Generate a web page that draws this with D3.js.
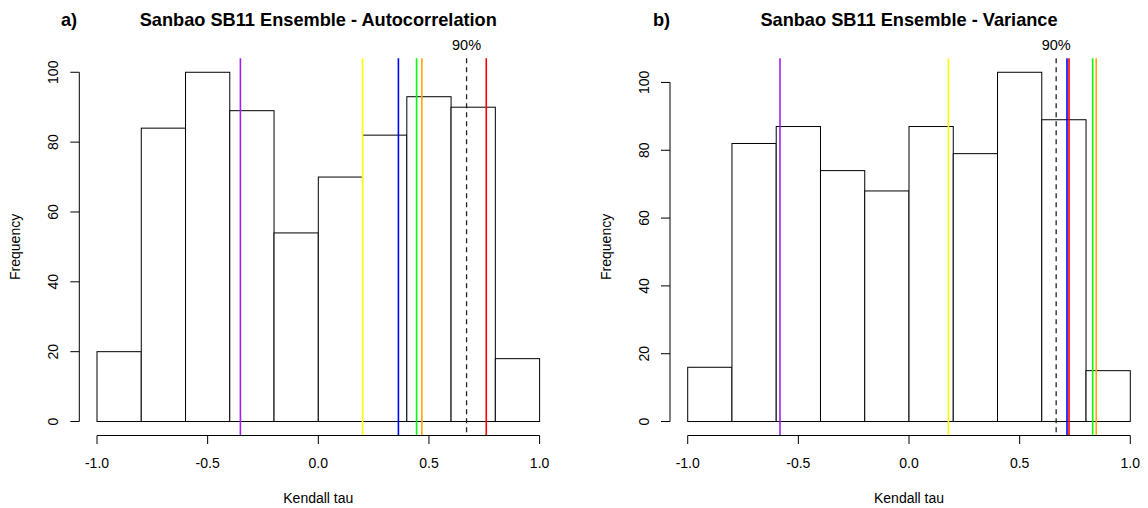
<!DOCTYPE html>
<html lang="en">
<head>
    <meta charset="UTF-8">
    <title>Sanbao SB11 Ensemble</title>
    <script src="https://d3js.org/d3.v7.min.js"></script>
    <style>
        body { margin: 0; background: #fff; }
        svg text { font-family: "Liberation Sans", Arial, sans-serif; fill: #000; }
    </style>
</head>
<body>
    <svg width="1148" height="508"></svg>
    <script>
        // histogram bins (Kendall tau) and counts
        const breaks = [-1.0, -0.8, -0.6, -0.4, -0.2, 0.0, 0.2, 0.4, 0.6, 0.8, 1.0];
        const countsAuto = [20, 84, 100, 89, 54, 70, 82, 93, 90, 18];
        const countsVar = [16, 82, 87, 74, 68, 87, 79, 103, 89, 15];

        // coloured record lines (purple, yellow, blue, green, orange, red)
        const lineColors = ["#A020F0", "#FFFF00", "#0000FF", "#00FF00", "#FFA500", "#FF0000"];
        const tauAuto = [-0.352, 0.200, 0.362, 0.444, 0.468, 0.759];
        const tauVar = [-0.583, 0.178, 0.714, 0.830, 0.846, 0.723];

        // 90% quantile
        const q90Auto = 0.67;
        const q90Var = 0.665;

        const xTicks = [-1.0, -0.5, 0.0, 0.5, 1.0];
        const yTicks = [0, 20, 40, 60, 80, 100];

        const svg = d3.select("svg");

        function drawPanel(opt) {
            const g = svg.append("g");
            const top = 58.3, bottom = 435.5;
            const x = d3.scaleLinear().domain([-1.08, 1.08]).range([opt.left, opt.left + 478]);
            const maxC = d3.max(opt.counts);
            const pad = maxC * 0.04;
            const y = d3.scaleLinear().domain([-pad, maxC + pad]).range([bottom, top]);

            // bars
            g.selectAll("rect.bar")
                .data(opt.counts)
                .enter().append("rect")
                .attr("class", "bar")
                .attr("x", (d, i) => x(breaks[i]))
                .attr("width", (d, i) => x(breaks[i + 1]) - x(breaks[i]))
                .attr("y", d => y(d))
                .attr("height", d => y(0) - y(d))
                .attr("fill", "#fff")
                .attr("stroke", "#000")
                .attr("stroke-width", 1);

            // coloured lines
            g.selectAll("line.rec")
                .data(opt.taus)
                .enter().append("line")
                .attr("x1", d => x(d)).attr("x2", d => x(d))
                .attr("y1", top).attr("y2", bottom)
                .attr("stroke", (d, i) => lineColors[i])
                .attr("stroke-width", 1.6);

            // 90% dashed line
            g.append("line")
                .attr("x1", x(opt.q90)).attr("x2", x(opt.q90))
                .attr("y1", top).attr("y2", bottom)
                .attr("stroke", "#222")
                .attr("stroke-width", 1.3)
                .attr("stroke-dasharray", "5,4");
            g.append("text")
                .attr("x", x(opt.q90)).attr("y", 50)
                .attr("text-anchor", "middle")
                .style("font-size", "14.5px")
                .text("90%");

            // x axis
            const xa = g.append("g").attr("transform", `translate(0,${bottom})`);
            xa.append("line")
                .attr("x1", x(-1)).attr("x2", x(1))
                .attr("stroke", "#000");
            xTicks.forEach(t => {
                xa.append("line")
                    .attr("x1", x(t)).attr("x2", x(t))
                    .attr("y1", 0).attr("y2", 8.5)
                    .attr("stroke", "#000");
                xa.append("text")
                    .attr("x", x(t)).attr("y", 32.5)
                    .attr("text-anchor", "middle")
                    .style("font-size", "14px")
                    .text(d3.format(".1f")(t).replace("−", "-"));
            });
            g.append("text")
                .attr("x", x(0)).attr("y", 503)
                .attr("text-anchor", "middle")
                .style("font-size", "14px")
                .text("Kendall tau");

            // y axis
            const ya = g.append("g").attr("transform", `translate(${opt.left},0)`);
            ya.append("line")
                .attr("y1", y(0)).attr("y2", y(100))
                .attr("stroke", "#000");
            yTicks.forEach(t => {
                ya.append("line")
                    .attr("y1", y(t)).attr("y2", y(t))
                    .attr("x1", 0).attr("x2", -9)
                    .attr("stroke", "#000");
                ya.append("text")
                    .attr("transform", `translate(-21,${y(t)}) rotate(-90)`)
                    .attr("text-anchor", "middle")
                    .style("font-size", "14px")
                    .text(t);
            });
            g.append("text")
                .attr("transform", `translate(${opt.left - 59},${(top + bottom) / 2}) rotate(-90)`)
                .attr("text-anchor", "middle")
                .style("font-size", "14px")
                .text("Frequency");

            // titles
            g.append("text")
                .attr("x", opt.left + 239).attr("y", 26)
                .attr("text-anchor", "middle")
                .style("font-size", "18.2px")
                .style("font-weight", "bold")
                .text(opt.title);
            g.append("text")
                .attr("x", opt.tagX).attr("y", 26)
                .style("font-size", "18.2px")
                .style("font-weight", "bold")
                .text(opt.tag);
        }

        drawPanel({ left: 79.3, counts: countsAuto, taus: tauAuto, q90: q90Auto,
            title: "Sanbao SB11 Ensemble - Autocorrelation", tag: "a)", tagX: 61 });
        drawPanel({ left: 670, counts: countsVar, taus: tauVar, q90: q90Var,
            title: "Sanbao SB11 Ensemble - Variance", tag: "b)", tagX: 653 });
    </script>
</body>
</html>
